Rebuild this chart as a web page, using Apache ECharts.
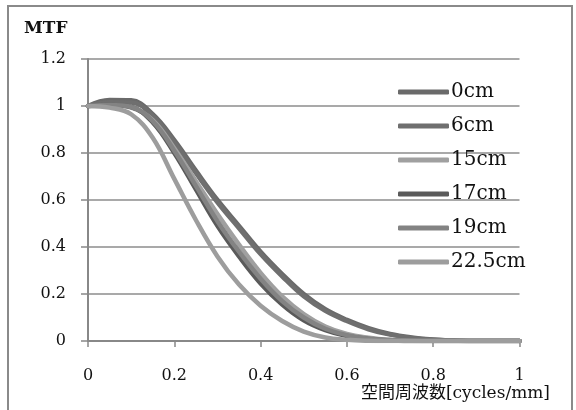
<!DOCTYPE html>
<html>
<head>
<meta charset="utf-8">
<script src="https://cdn.jsdelivr.net/npm/echarts@6/dist/echarts.min.js"></script>
<style>html,body{margin:0;padding:0;background:#fff}#c{width:576px;height:410px}</style>
</head>
<body>
<div id="c"></div>
<script>
const xs = [0,0.05,0.1,0.15,0.2,0.25,0.3,0.35,0.4,0.45,0.5,0.55,0.6,0.65,0.7,0.75,0.8,0.85,0.9,0.95,1.0];
const seriesNames = ['0cm','6cm','15cm','17cm','19cm','22.5cm'];
const v0   = [1.0,1.026,1.024,0.965,0.855,0.725,0.60,0.49,0.38,0.285,0.20,0.135,0.09,0.055,0.03,0.015,0.006,0.002,0,0,0];
const v6   = [1.0,1.016,1.015,0.958,0.845,0.715,0.59,0.48,0.37,0.275,0.19,0.128,0.085,0.05,0.027,0.013,0.005,0.002,0,0,0];
const v15  = [1.0,1.003,0.993,0.94,0.82,0.68,0.54,0.41,0.29,0.19,0.115,0.062,0.03,0.014,0.005,0.001,0,0,0,0,0];
const v17  = [1.0,1.004,0.996,0.93,0.80,0.645,0.49,0.36,0.245,0.155,0.088,0.046,0.021,0.009,0.003,0,0,0,0,0,0];
const v19  = [1.0,1.004,0.996,0.935,0.81,0.66,0.51,0.38,0.265,0.17,0.10,0.052,0.025,0.01,0.004,0,0,0,0,0,0];
const v225 = [1.0,0.993,0.965,0.865,0.69,0.515,0.36,0.24,0.15,0.085,0.04,0.015,0.005,0.001,0,0,0,0,0,0,0];
const xTicks = ['0','0.2','0.4','0.6','0.8','1'];
const yTicks = ['0','0.2','0.4','0.6','0.8','1','1.2'];
const allValues = [v0, v6, v15, v17, v19, v225];
const colors = ['#6a6a6a','#6f6f6f','#a0a0a0','#5a5a5a','#838383','#9d9d9d'];

const FONT = "'DejaVu Serif', 'Noto Sans CJK JP', serif";
const chart = echarts.init(document.getElementById('c'), null, {renderer:'canvas'});
const series = seriesNames.map((n,i)=>({
  name:n, type:'line', smooth:0.4, symbol:'none',
  data: xs.map((x,j)=>[x, allValues[i][j]]),
  lineStyle:{color:colors[i], width:4.5, cap:'round'},
  itemStyle:{color:colors[i]},
  z: 2+i
}));
chart.setOption({
  animation:false,
  backgroundColor:'#fff',
  grid:{left:88, right:56.5, top:59, bottom:69, containLabel:false},
  xAxis:{type:'value', min:0, max:1, interval:0.2,
    axisLine:{show:true, lineStyle:{color:'#888', width:2}},
    axisTick:{show:true, length:6, lineStyle:{color:'#888', width:1.5}},
    axisLabel:{margin:27, color:'#111', fontFamily:FONT, fontSize:16,
      formatter:(v)=>{const i=Math.round(v/0.2); return xTicks[i]!==undefined?xTicks[i]:'';}},
    splitLine:{show:false}},
  yAxis:{type:'value', min:0, max:1.2, interval:0.2,
    axisLine:{show:true, lineStyle:{color:'#888', width:2}},
    axisTick:{show:true, length:7, lineStyle:{color:'#888', width:1.5}},
    axisLabel:{margin:22, color:'#111', fontFamily:FONT, fontSize:16,
      formatter:(v)=>{const i=Math.round(v/0.2); return yTicks[i]!==undefined?yTicks[i]:'';}},
    splitLine:{show:true, lineStyle:{color:'#8c8c8c', width:1.5}}},
  legend:{orient:'vertical', left:393, top:77, itemWidth:51, itemHeight:5, itemGap:14,
    data:seriesNames.map((n,i)=>({name:n, icon:'roundRect'})),
    textStyle:{fontFamily:FONT, fontSize:20, lineHeight:20, color:'#111', padding:[0,0,0,-3]}},
  graphic:[
    {type:'rect', shape:{x:8, y:6, width:564, height:420}, style:{fill:'none', stroke:'#8a8a8a', lineWidth:2}, z:-1, silent:true},
    {type:'text', left:24, top:20, style:{text:'MTF', font:"bold 17px 'DejaVu Serif', serif", fill:'#111'}},
    {type:'text', right:26, top:385, style:{text:'空間周波数[cycles/mm]', font:"17px 'DejaVu Serif', 'Noto Sans CJK JP', serif", fill:'#111'}}
  ],
  series:series
});
</script>
</body>
</html>
